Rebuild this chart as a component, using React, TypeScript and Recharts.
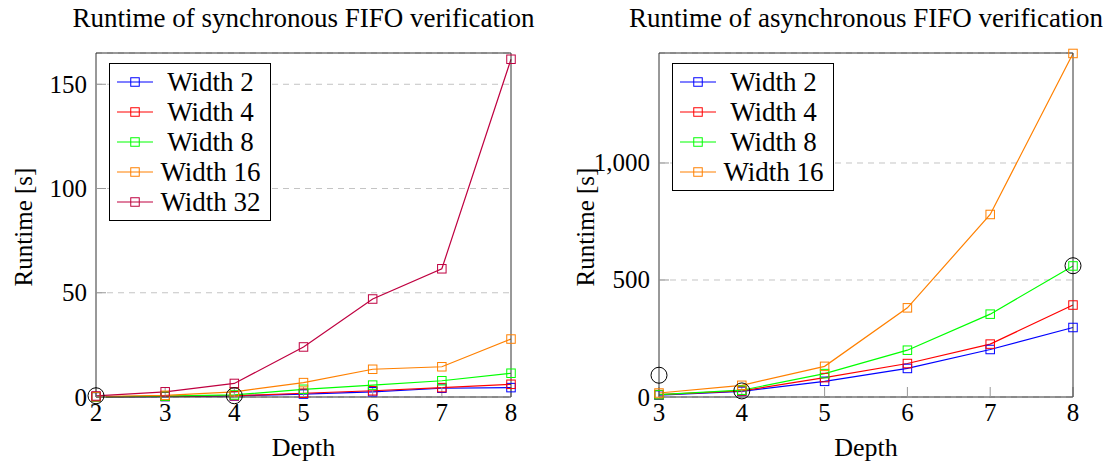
import { ComposedChart, Line, XAxis, YAxis, CartesianGrid, Legend } from "recharts";

// synchronous FIFO, runtime in seconds per depth
const syncDepth = [2, 3, 4, 5, 6, 7, 8];
const syncWidth2 = [0.05, 0.2, 0.5, 1.4, 2.5, 4.2, 4.5];
const syncWidth4 = [0.1, 0.3, 0.6, 1.8, 3.0, 4.5, 6.1];
const syncWidth8 = [0.1, 0.4, 1.0, 3.7, 5.7, 7.8, 11.4];
const syncWidth16 = [0.2, 0.8, 2.5, 6.9, 13.3, 14.5, 27.8];
const syncWidth32 = [0.5, 2.5, 6.5, 24, 47, 61.5, 162];
const syncCircled = [0.6, null, 0.6, null, null, null, null];
const syncYTicks = [0, 50, 100, 150];

// asynchronous FIFO
const asyncDepth = [3, 4, 5, 6, 7, 8];
const asyncWidth2 = [8, 24, 67, 122, 203, 297];
const asyncWidth4 = [10, 26, 83, 143, 226, 393];
const asyncWidth8 = [10, 29, 100, 200, 354, 560];
const asyncWidth16 = [17, 50, 131, 381, 780, 1468];
const asyncCircled = [93, 26, null, null, null, 561];
const asyncYTicks = [0, 500, 1000];

type Series = { key: string; name: string; color: string; values: number[] };

const BLUE = "#0000ff";
const RED = "#ff0000";
const GREEN = "#00ff00";
const ORANGE = "#ff8000";
const PURPLE = "#bf0040";

const syncSeries: Series[] = [
  { key: "w2", name: "Width 2", color: BLUE, values: syncWidth2 },
  { key: "w4", name: "Width 4", color: RED, values: syncWidth4 },
  { key: "w8", name: "Width 8", color: GREEN, values: syncWidth8 },
  { key: "w16", name: "Width 16", color: ORANGE, values: syncWidth16 },
  { key: "w32", name: "Width 32", color: PURPLE, values: syncWidth32 },
];

const asyncSeries: Series[] = [
  { key: "w2", name: "Width 2", color: BLUE, values: asyncWidth2 },
  { key: "w4", name: "Width 4", color: RED, values: asyncWidth4 },
  { key: "w8", name: "Width 8", color: GREEN, values: asyncWidth8 },
  { key: "w16", name: "Width 16", color: ORANGE, values: asyncWidth16 },
];

function buildRows(depths: number[], series: Series[], circled: (number | null)[]) {
  return depths.map((d, i) => {
    const row: any = { depth: d, mark: circled[i] };
    series.forEach((s) => (row[s.key] = s.values[i]));
    return row;
  });
}

const FONT = "'Liberation Serif', Tinos, 'Times New Roman', serif";
const SQ = 8.5;
const fmt = (v: number) => v.toLocaleString("en-US");

const squareDot = (color: string) => (p: any) => {
  if (p.cx == null || p.cy == null) return <g key={p.index} />;
  return (
    <rect
      key={p.index}
      x={p.cx - SQ / 2}
      y={p.cy - SQ / 2}
      width={SQ}
      height={SQ}
      fill="none"
      stroke={color}
      strokeWidth={1}
    />
  );
};

const circleDot = (p: any) => {
  if (p.cx == null || p.cy == null || p.value == null) return <g key={p.index} />;
  return <circle key={p.index} cx={p.cx} cy={p.cy} r={8} fill="none" stroke="#000" strokeWidth={1} />;
};

const xTick = (p: any) => (
  <text x={p.x} y={p.y} dy="0.72em" textAnchor="middle" fontFamily={FONT} fontSize={25} fill="#000">
    {fmt(p.payload.value)}
  </text>
);

const yTick = (p: any) => (
  <text x={p.x} y={p.y} dy="0.34em" textAnchor="end" fontFamily={FONT} fontSize={25} fill="#000">
    {fmt(p.payload.value)}
  </text>
);

const depthLabel = (p: any) => {
  const vb = p.viewBox;
  return (
    <text x={vb.x + vb.width / 2} y={vb.y + vb.height - 7} textAnchor="middle" fontFamily={FONT} fontSize={26} fill="#000">
      Depth
    </text>
  );
};

const runtimeLabel = (cx: number) => (p: any) => {
  const vb = p.viewBox;
  const cy = vb.y + vb.height / 2 + 2;
  return (
    <text
      x={cx}
      y={cy}
      dy="0.34em"
      transform={`rotate(-90, ${cx}, ${cy})`}
      textAnchor="middle"
      fontFamily={FONT}
      fontSize={25}
      fill="#000"
    >
      Runtime [s]
    </text>
  );
};

// pgfplots style legend box, entries in series order
const legendBox = (series: Series[]) => () => (
  <div style={{ border: "1px solid #000", background: "#fff", padding: "3px 0", width: 160, fontFamily: FONT }}>
    {series.map((s) => (
      <div key={s.key} style={{ display: "flex", alignItems: "center", height: 30 }}>
        <svg width={44} height={30} style={{ flex: "none" }}>
          <line x1={7} y1={15} x2={43} y2={15} stroke={s.color} strokeWidth={1.2} />
          <rect x={25 - SQ / 2} y={15 - SQ / 2} width={SQ} height={SQ} fill="none" stroke={s.color} />
        </svg>
        <div
          style={{
            width: 113,
            textAlign: "center",
            fontSize: 27,
            lineHeight: "30px",
            whiteSpace: "nowrap",
            fontFamily: FONT,
          }}
        >
          {s.name}
        </div>
      </div>
    ))}
  </div>
);

type FifoProps = {
  title: string;
  left: number;
  width: number;
  yAxisWidth: number;
  rightMargin: number;
  labelX: number;
  depths: number[];
  series: Series[];
  circled: (number | null)[];
  yMax: number;
  yTicks: number[];
};

function FifoChart(p: FifoProps) {
  const data = buildRows(p.depths, p.series, p.circled);
  const xDomain = [p.depths[0], p.depths[p.depths.length - 1]];
  const plotLeft = p.yAxisWidth;
  const plotRight = p.width - p.rightMargin - 1;
  const center = (plotLeft + plotRight) / 2;
  return (
    <div style={{ position: "absolute", left: p.left, top: 0, width: p.width, height: 463, fontFamily: FONT }}>
      <div
        style={{
          position: "absolute",
          left: center - 300,
          width: 600,
          top: 5,
          textAlign: "center",
          fontSize: 27,
          lineHeight: "27px",
          whiteSpace: "nowrap",
          fontFamily: FONT,
        }}
      >
        {p.title}
      </div>
      <ComposedChart
        width={p.width}
        height={463}
        data={data}
        margin={{ top: 52, right: p.rightMargin, left: 0, bottom: 0 }}
      >
        <CartesianGrid vertical={false} strokeDasharray="6 5" stroke="#c4c4c4" />
        <XAxis
          type="number"
          dataKey="depth"
          domain={xDomain}
          ticks={p.depths}
          height={66}
          tickSize={-10}
          tickMargin={16}
          stroke="#333"
          tickLine={{ stroke: "#999" }}
          tick={xTick}
          label={{ value: "Depth", position: "insideBottom", content: depthLabel }}
        />
        <XAxis
          xAxisId="top"
          orientation="top"
          type="number"
          dataKey="depth"
          domain={xDomain}
          ticks={p.depths}
          height={1}
          tickSize={-10}
          tick={false}
          stroke="#333"
          tickLine={{ stroke: "#999" }}
        />
        <YAxis
          type="number"
          domain={[0, p.yMax]}
          ticks={p.yTicks}
          width={p.yAxisWidth}
          tickSize={-10}
          tickMargin={19}
          stroke="#333"
          tickLine={{ stroke: "#999" }}
          tick={yTick}
          label={{ value: "Runtime [s]", position: "insideLeft", content: runtimeLabel(p.labelX) }}
        />
        <YAxis
          yAxisId="right"
          orientation="right"
          type="number"
          domain={[0, p.yMax]}
          ticks={p.yTicks}
          width={1}
          tickSize={-10}
          tick={false}
          stroke="#333"
          tickLine={{ stroke: "#999" }}
        />
        <Legend
          layout="vertical"
          align="center"
          verticalAlign="middle"
          content={legendBox(p.series)}
          wrapperStyle={{ left: plotLeft + 13, top: 63, width: "auto", height: "auto" }}
        />
        {p.series.map((s) => (
          <Line
            key={s.key}
            type="linear"
            dataKey={s.key}
            name={s.name}
            stroke={s.color}
            strokeWidth={1.2}
            dot={squareDot(s.color)}
            activeDot={false}
            isAnimationActive={false}
          />
        ))}
        <Line
          dataKey="mark"
          stroke="none"
          legendType="none"
          dot={circleDot}
          activeDot={false}
          isAnimationActive={false}
        />
      </ComposedChart>
    </div>
  );
}

export default function App() {
  return (
    <div
      style={{
        position: "absolute",
        left: 0,
        top: 0,
        width: 1109,
        height: 463,
        overflow: "hidden",
        background: "#fff",
      }}
    >
      <FifoChart
        title="Runtime of synchronous FIFO verification"
        left={0}
        width={560}
        yAxisWidth={96}
        rightMargin={48}
        labelX={23}
        depths={syncDepth}
        series={syncSeries}
        circled={syncCircled}
        yMax={165}
        yTicks={syncYTicks}
      />
      <FifoChart
        title="Runtime of asynchronous FIFO verification"
        left={560}
        width={549}
        yAxisWidth={99}
        rightMargin={35}
        labelX={25}
        depths={asyncDepth}
        series={asyncSeries}
        circled={asyncCircled}
        yMax={1470}
        yTicks={asyncYTicks}
      />
    </div>
  );
}
